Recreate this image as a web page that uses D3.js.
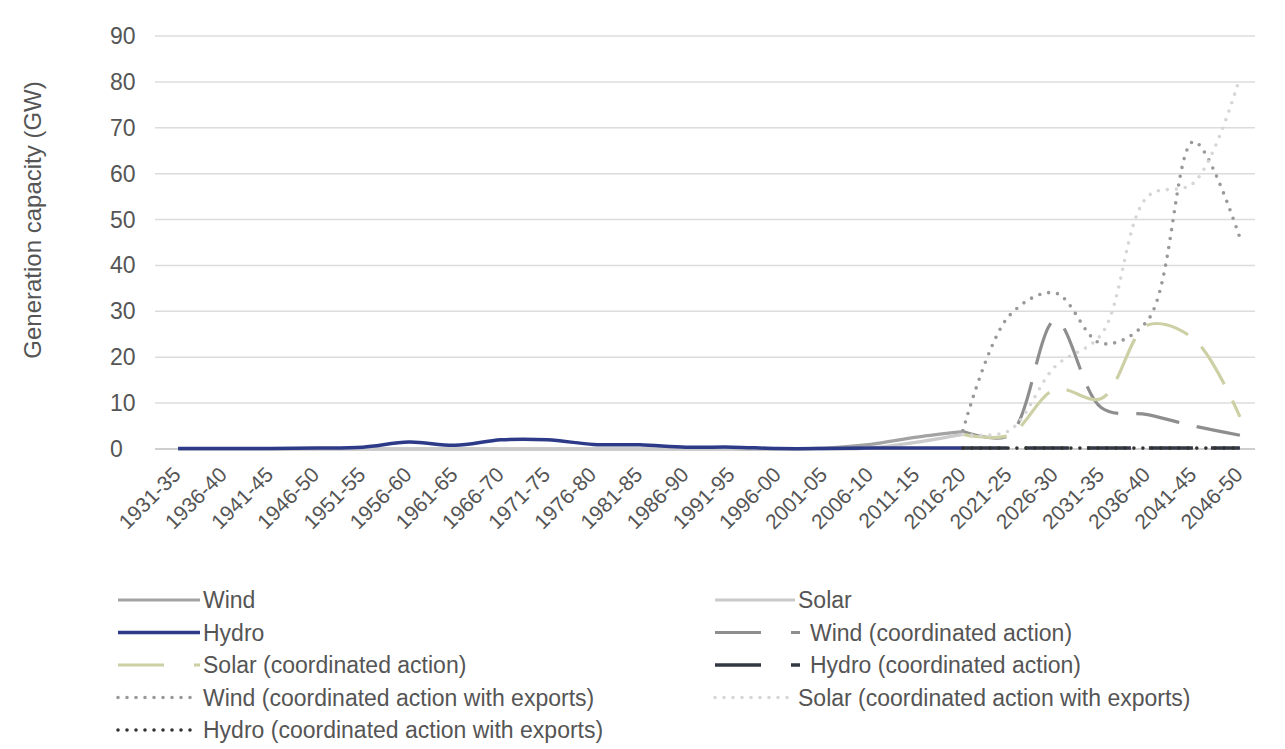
<!DOCTYPE html>
<html><head><meta charset="utf-8">
<script src="https://cdn.jsdelivr.net/npm/d3@7"></script>
<style>
html,body{margin:0;padding:0;background:#fff;}
svg text{font-family:"Liberation Sans",Arial,Helvetica,sans-serif;fill:#555;}
</style></head>
<body><svg id="c" width="1285" height="749"></svg>
<script>
const categories = ["1931-35","1936-40","1941-45","1946-50","1951-55","1956-60","1961-65","1966-70","1971-75","1976-80","1981-85","1986-90","1991-95","1996-00","2001-05","2006-10","2011-15","2016-20","2021-25","2026-30","2031-35","2036-40","2041-45","2046-50"];
const yTicks = [0,10,20,30,40,50,60,70,80,90];
const N = null;
const wind      = [0,0,0,0,0,0,0,0,0,0,0,0,0,0,0.2,1.0,2.6,3.8,N,N,N,N,N,N];
const solar     = [0,0,0,0,0,0,0,0,0,0,0,0,0,0,0,0.2,1.5,3.2,N,N,N,N,N,N];
const hydro     = [0.1,0.1,0.1,0.2,0.4,1.5,0.8,2.0,2.0,1.0,0.9,0.4,0.4,0.1,0.1,0.2,0.2,0.2,N,N,N,N,N,N];
const windCA    = [N,N,N,N,N,N,N,N,N,N,N,N,N,N,N,N,N,3.8,3,28,9,7.5,5,3];
const solarCA   = [N,N,N,N,N,N,N,N,N,N,N,N,N,N,N,N,N,3.2,3,13,11,27,24,7];
const hydroCA   = [N,N,N,N,N,N,N,N,N,N,N,N,N,N,N,N,N,0.2,0.2,0.2,0.2,0.2,0.2,0.2];
const windExp   = [N,N,N,N,N,N,N,N,N,N,N,N,N,N,N,N,N,4,29,34,23,28,67,46];
const solarExp  = [N,N,N,N,N,N,N,N,N,N,N,N,N,N,N,N,N,3.2,4,18,25,55,58,81];
const hydroExp  = [N,N,N,N,N,N,N,N,N,N,N,N,N,N,N,N,N,0.2,0.2,0.2,0.2,0.2,0.2,0.2];

const series = [
  {name:"Wind", values:wind, color:"#a3a3a3", dash:null, w:3.2},
  {name:"Solar", values:solar, color:"#cacaca", dash:null, w:3.2},
  {name:"Hydro", values:hydro, color:"#2c3a88", dash:null, w:3.5},
  {name:"Wind (coordinated action)", values:windCA, color:"#8e8e8e", dash:"44,18", w:3.2},
  {name:"Solar (coordinated action)", values:solarCA, color:"#cdd0a4", dash:"44,18", w:3.2},
  {name:"Hydro (coordinated action)", values:hydroCA, color:"#333845", dash:"44,18", w:3.5},
  {name:"Wind (coordinated action with exports)", values:windExp, color:"#999999", dash:"0,9", w:3.6, round:true},
  {name:"Solar (coordinated action with exports)", values:solarExp, color:"#d6d6d6", dash:"0,9", w:3.6, round:true},
  {name:"Hydro (coordinated action with exports)", values:hydroExp, color:"#333333", dash:"0,9", w:3.6, round:true}
];

const svg = d3.select("#c");
const x = d3.scalePoint().domain(categories).range([155,1263]).padding(0.5);
const y = d3.scaleLinear().domain([0,90]).range([449,36]);
const gx0 = 155, gx1 = 1255;

// gridlines
svg.append("g").selectAll("line").data(yTicks.filter(d=>d>0)).join("line")
  .attr("x1",gx0).attr("x2",gx1).attr("y1",d=>y(d)).attr("y2",d=>y(d))
  .attr("stroke","#dcdcdc").attr("stroke-width",1.5);
svg.append("line").attr("x1",gx0).attr("x2",gx1).attr("y1",y(0)).attr("y2",y(0))
  .attr("stroke","#bfbfbf").attr("stroke-width",1.5);

// y tick labels
svg.append("g").selectAll("text").data(yTicks).join("text")
  .attr("x",110).attr("y",d=>y(d)+8).attr("font-size",23).text(d=>d);

// axis title
svg.append("text").attr("transform","translate(41,220) rotate(-90)")
  .attr("text-anchor","middle").attr("font-size",24).text("Generation capacity (GW)");

// x labels
svg.append("g").selectAll("text").data(categories).join("text")
  .attr("transform",d=>`translate(${x(d)+4},${476}) rotate(-45)`)
  .attr("text-anchor","end").attr("font-size",21).text(d=>d);

// lines
const line = d3.line().defined(d=>d.v!==null).x(d=>x(d.c)).y(d=>y(d.v)).curve(d3.curveCatmullRom.alpha(0.5));
svg.append("g").selectAll("path").data(series).join("path")
  .attr("d",s=>line(categories.map((c,i)=>({c, v:s.values[i]}))))
  .attr("fill","none").attr("stroke",s=>s.color).attr("stroke-width",s=>s.w)
  .attr("stroke-dasharray",s=>s.dash).attr("stroke-linecap",s=>s.round?"round":"butt");

// legend
const rows = [600,632.5,665,697.5,730];
const legendPos = [
  {x1:118,x2:200,tx:203,y:rows[0]},{x1:715,x2:795,tx:798,y:rows[0]},
  {x1:118,x2:200,tx:203,y:rows[1]},{x1:715,x2:800,tx:810,y:rows[1]},
  {x1:118,x2:200,tx:203,y:rows[2]},{x1:715,x2:800,tx:810,y:rows[2]},
  {x1:118,x2:198,tx:203,y:rows[3]},{x1:715,x2:795,tx:798,y:rows[3]},
  {x1:118,x2:198,tx:203,y:rows[4]}
];
const lg = svg.append("g");
series.forEach((s,i)=>{
  const p = legendPos[i];
  lg.append("line").attr("x1",p.x1).attr("x2",p.x2).attr("y1",p.y).attr("y2",p.y)
    .attr("stroke",s.color).attr("stroke-width",s.w)
    .attr("stroke-dasharray",s.dash ? (s.round? "0,9" : "46,30") : null)
    .attr("stroke-linecap",s.round?"round":"butt");
  lg.append("text").attr("x",p.tx).attr("y",p.y+8).attr("font-size",23).text(s.name);
});
</script></body></html>
